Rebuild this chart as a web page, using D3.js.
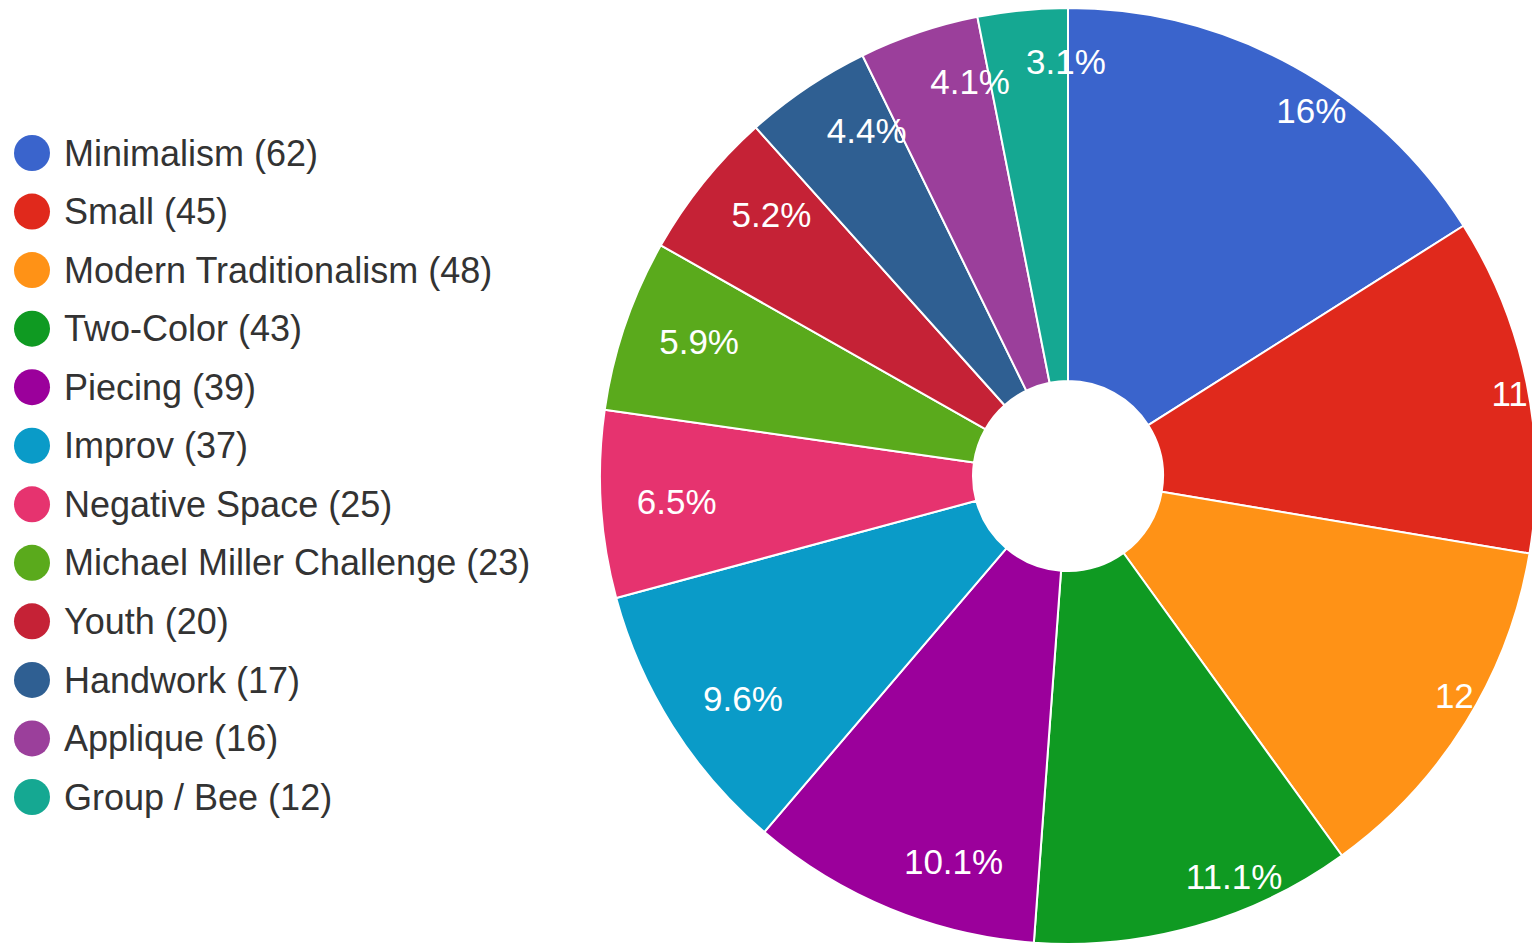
<!DOCTYPE html>
<html>
<head>
<meta charset="utf-8">
<script src="https://cdn.jsdelivr.net/npm/d3@7"></script>
<style>
  html, body { margin: 0; padding: 0; background: #ffffff; overflow: hidden; }
  svg { display: block; font-family: "Liberation Sans", Arial, sans-serif; }
</style>
</head>
<body>
<svg id="chart" width="1532" height="946"></svg>
<script>
// Quilt categories and their entry counts
const categories = [
  "Minimalism", "Small", "Modern Traditionalism", "Two-Color", "Piecing", "Improv",
  "Negative Space", "Michael Miller Challenge", "Youth", "Handwork", "Applique", "Group / Bee"
];
const counts = [62, 45, 48, 43, 39, 37, 25, 23, 20, 17, 16, 12];
const colors = [
  "#3a64cc", "#e0291c", "#ff9216", "#0f9a22", "#9b009b", "#0a9bc8",
  "#e6336f", "#5aaa1c", "#c52236", "#2f5f92", "#9b3f9b", "#15a892"
];

const W = 1532, H = 946;
const cx = 1068, cy = 476;
const outerR = 468, innerR = 95;
// label anchor distances from the centre (horizontal / vertical)
const labelRx = outerR * 0.923;
const labelRy = outerR * 0.89;

const svg = d3.select("#chart");
const total = d3.sum(counts);

const pie = d3.pie().sort(null).value(d => d.value);
const arc = d3.arc().innerRadius(innerR).outerRadius(outerR);

const data = categories.map((name, i) => ({ name, value: counts[i], color: colors[i] }));
const arcs = pie(data);

const g = svg.append("g").attr("transform", `translate(${cx},${cy})`);

g.selectAll("path.slice")
  .data(arcs)
  .join("path")
  .attr("class", "slice")
  .attr("d", arc)
  .attr("fill", d => d.data.color)
  .attr("stroke", "#ffffff")
  .attr("stroke-width", 2)
  .attr("stroke-linejoin", "round");

// Percentage labels, left-aligned at a point along each slice's mid angle
const pct = v => {
  const s = d3.format(".1f")(v * 100);
  return (s.endsWith(".0") ? s.slice(0, -2) : s) + "%";
};
const mid = d => (d.startAngle + d.endAngle) / 2;

g.selectAll("text.pct")
  .data(arcs)
  .join("text")
  .attr("class", "pct")
  .attr("x", d => labelRx * Math.sin(mid(d)))
  .attr("y", d => -labelRy * Math.cos(mid(d)))
  .attr("dy", "0.35em")
  .attr("text-anchor", "start")
  .attr("fill", "#ffffff")
  .attr("font-size", 35)
  .text(d => pct(d.data.value / total));

// Legend
const legendY = d3.scaleLinear().domain([0, categories.length - 1]).range([153, 797]);

const legend = svg.append("g").attr("class", "legend");
const rows = legend.selectAll("g.row")
  .data(data)
  .join("g")
  .attr("class", "row")
  .attr("transform", (d, i) => `translate(0,${legendY(i)})`);

rows.append("circle")
  .attr("cx", 32)
  .attr("cy", 0)
  .attr("r", 18)
  .attr("fill", d => d.color);

rows.append("text")
  .attr("x", 64)
  .attr("y", 0)
  .attr("dy", "0.35em")
  .attr("fill", "#333333")
  .attr("font-size", 36)
  .text(d => `${d.name} (${d.value})`);
</script>
</body>
</html>
